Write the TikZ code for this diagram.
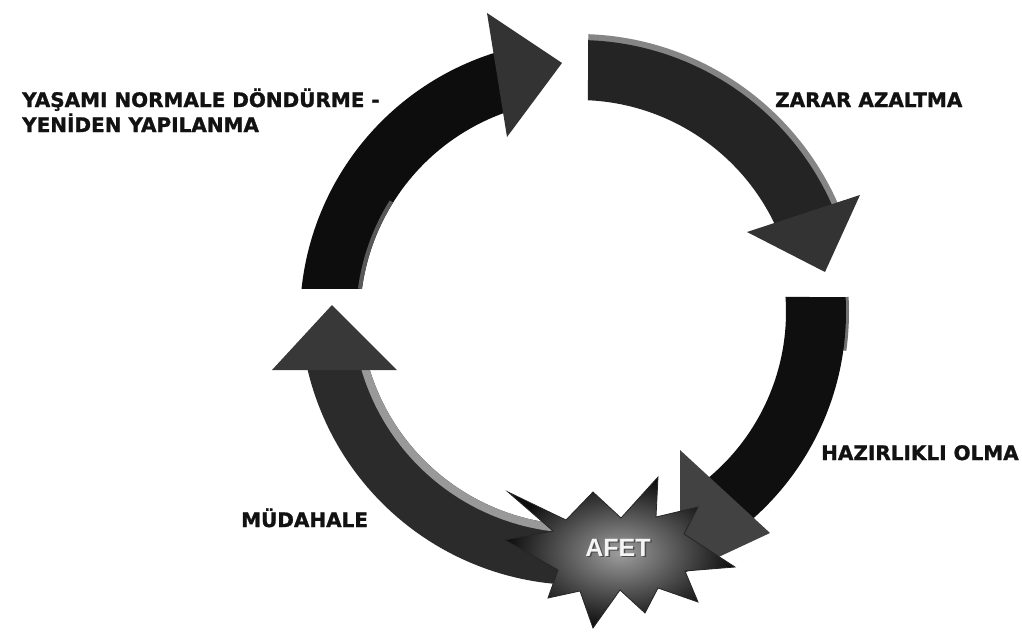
\documentclass[tikz,border=0pt]{standalone}
\usepackage{fontspec}
\newfontfamily\phasefont{DejaVu Sans}[FakeBold=1.2]
\newfontfamily\burstfont{Liberation Sans}
\begin{document}
\begin{tikzpicture}[x=1pt,y=-1pt,
  phase/.style={font=\phasefont\bfseries\fontsize{20}{24}\selectfont, text=black!93, inner sep=0pt, anchor=base west},
  arrowhead/.style={fill=#1, draw=none},
  band/.style={fill=#1, draw=none}]
\useasboundingbox (0,0) rectangle (1022,632);
\fill[white] (0,0) rectangle (1022,632);

% lower-left band (response), rising to the left arrowhead
\fill[band=black!83]
  plot[domain=85:168,samples=80] ({580+280*cos(\x)},{305+280*sin(\x)})
  -- plot[domain=168:85,samples=80] ({580+220*cos(\x)},{305+220*sin(\x)}) -- cycle;
\fill[band=black!40]
  plot[domain=92:168,samples=80] ({580+228*cos(\x)},{305+228*sin(\x)})
  -- plot[domain=168:92,samples=80] ({580+220*cos(\x)},{305+220*sin(\x)}) -- cycle;
\fill[arrowhead=black!78] (272,370) -- (332,305) -- (397,370) -- cycle;

% right band (preparedness), falling towards the burst
\fill[band=black!55]
  plot[domain=356.9:368,samples=20] ({570+279*cos(\x)},{312+279*sin(\x)})
  -- plot[domain=368:356.9,samples=20] ({570+270*cos(\x)},{312+270*sin(\x)}) -- cycle;
\fill[band=black!94]
  plot[domain=356.9:413,samples=80] ({570+276*cos(\x)},{312+276*sin(\x)})
  -- plot[domain=413:356.0,samples=80] ({570+216*cos(\x)},{312+216*sin(\x)}) -- cycle;
\fill[arrowhead=black!74] (680,450) -- (770,533) -- (680,575) -- cycle;

% upper-left band (recovery)
\fill[band=black!95]
  plot[domain=186:256,samples=80] ({578+278*cos(\x)},{318+278*sin(\x)})
  -- plot[domain=256:187.65,samples=80] ({578+218*cos(\x)},{318+218*sin(\x)}) -- cycle;
\fill[band=black!65]
  plot[domain=187.65:212,samples=40] ({578+222*cos(\x)},{318+222*sin(\x)})
  -- plot[domain=212:187.65,samples=40] ({578+218*cos(\x)},{318+218*sin(\x)}) -- cycle;
\fill[arrowhead=black!80] (487,13) -- (562,63) -- (507,137) -- cycle;

% upper-right band (mitigation) with its light outer rim
\fill[band=black!48]
  plot[domain=272.1:337,samples=80] ({578+284*cos(\x)},{318+284*sin(\x)})
  -- plot[domain=337:272.1,samples=80] ({578+274*cos(\x)},{318+274*sin(\x)}) -- cycle;
\fill[band=black!86]
  plot[domain=272.1:338,samples=80] ({578+278*cos(\x)},{318+278*sin(\x)})
  -- plot[domain=338:272.6,samples=80] ({578+218*cos(\x)},{318+218*sin(\x)}) -- cycle;
\fill[arrowhead=black!80] (747,232) -- (860,195) -- (825,272) -- cycle;

% the disaster burst
\shade[inner color=black!38, outer color=black!95, draw=black!85, line width=0.8pt]
  (508,492) -- (566,520) -- (593,492) -- (621,518) -- (658,477) -- (656,517)
  -- (698,507) -- (684,534) -- (735,567) -- (685,571) -- (698,602) -- (658,588)
  -- (645,613) -- (620,590) -- (593,628) -- (580,591) -- (548,598) -- (558,570)
  -- (505,540) -- (553,531) -- cycle;
\node[font=\burstfont\bfseries\fontsize{25}{30}\selectfont, text=black!70, inner sep=0pt, anchor=base] (afetshadow) at (619.5,557.5) {AFET};
\node[font=\burstfont\bfseries\fontsize{25}{30}\selectfont, text=white!96!black, inner sep=0pt, anchor=base] (afet) at (618,556) {AFET};

% phase labels
\node[phase] (recovery1) at (22,107) {YAŞAMI NORMALE DÖNDÜRME -};
\node[phase] (recovery2) at (22,132) {YENİDEN YAPILANMA};
\node[phase] (mitigation) at (775,107) {ZARAR AZALTMA};
\node[phase] (preparedness) at (821,460) {HAZIRLIKLI OLMA};
\node[phase] (response) at (241,527) {MÜDAHALE};
\end{tikzpicture}
\end{document}
